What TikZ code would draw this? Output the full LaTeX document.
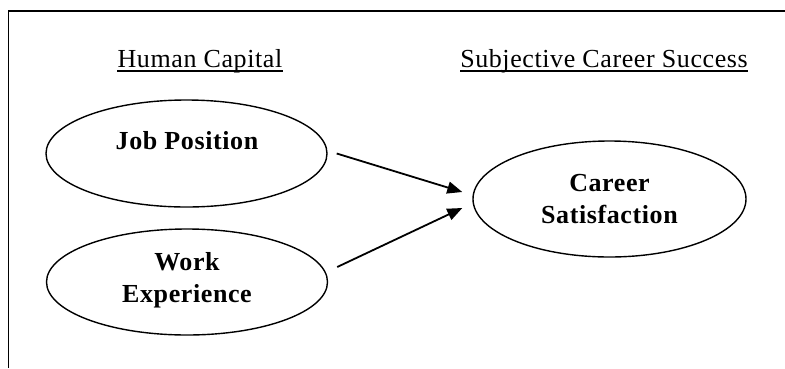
\documentclass[tikz,border=0pt]{standalone}
\usepackage{fontspec}
\setmainfont{Liberation Serif}[LetterSpace=2.3]
\usetikzlibrary{shapes.geometric,arrows.meta}
\tikzset{
  oval/.style={draw, ellipse, line width=1.4pt, inner sep=0pt},
  heading/.style={inner sep=0pt, anchor=base, font=\fontsize{26}{30}\selectfont},
  label/.style={inner sep=0pt, align=center, font=\fontsize{26}{32}\selectfont\bfseries},
  link/.style={line width=1.8pt, -{Triangle[length=15pt,width=12pt]}},
}
\begin{document}
\begin{tikzpicture}[x=1pt,y=-1pt]
\useasboundingbox (0,0) rectangle (785,368);
\draw[line width=1.4pt] (8.5,368) -- (8.5,11) -- (785,11);
\node[heading] (hc) at (200,67) {Human Capital};
\node[heading] (scs) at (604,67) {Subjective Career Success};
\draw[line width=1.3pt] ([yshift=-4pt]hc.base west) -- ([yshift=-4pt]hc.base east);
\draw[line width=1.3pt] ([yshift=-4pt]scs.base west) -- ([yshift=-4pt]scs.base east);
\node[oval, minimum width=281pt, minimum height=107pt] (jp) at (186.5,153.5) {};
\node[oval, minimum width=281pt, minimum height=106pt] (we) at (187,282) {};
\node[oval, minimum width=273pt, minimum height=116pt] (cs) at (609.5,199) {};
\node[label] (jpt) at (187,141) {Job Position};
\node[label] (wet) at (187,280) {Work\\Experience};
\node[label] (cst) at (609.5,199) {Career\\Satisfaction};
\draw[link] ([xshift=9pt]jp.east) -- ([xshift=-10pt,yshift=7pt]cs.west);
\draw[link] ([xshift=9pt,yshift=15pt]we.east) -- ([xshift=-10pt,yshift=-9pt]cs.west);
\end{tikzpicture}
\end{document}
